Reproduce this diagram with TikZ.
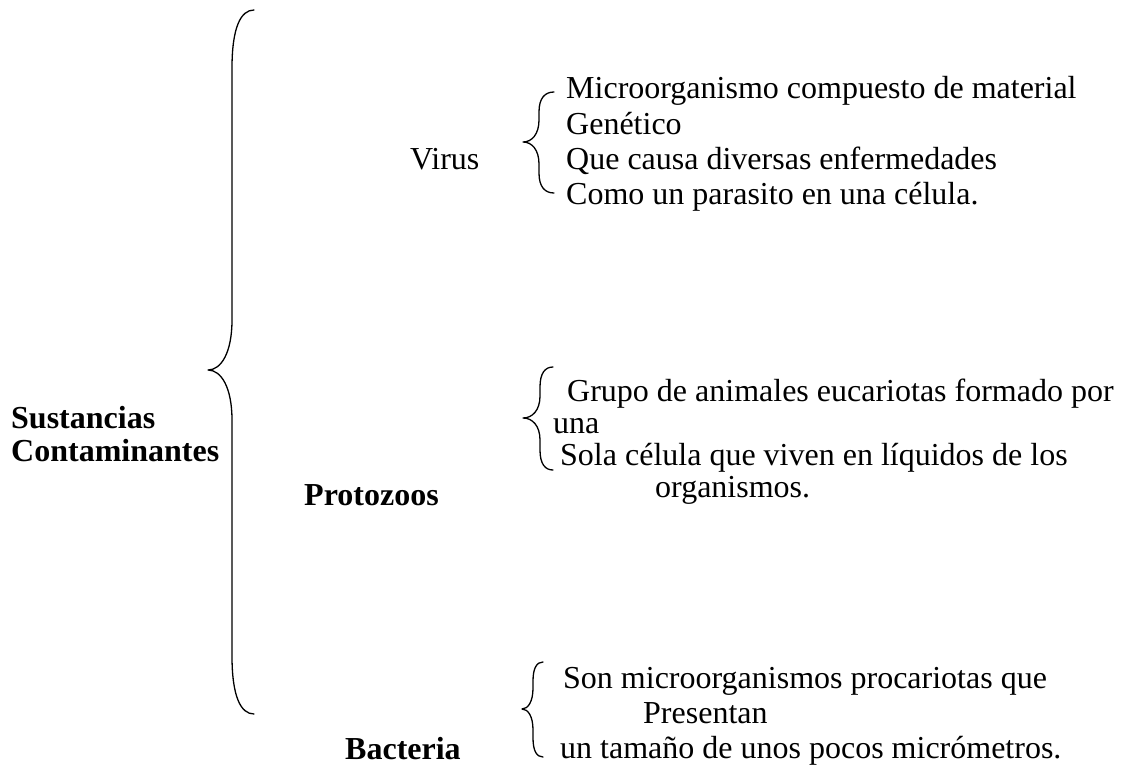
\documentclass[tikz,border=0pt]{standalone}
\usepackage{fontspec}
\setmainfont{Liberation Serif}
\tikzset{
  txt/.style={anchor=base west, inner sep=0pt, font=\fontsize{32}{35}\selectfont},
  btxt/.style={txt, font=\fontsize{32}{35}\selectfont\bfseries},
  bracestyle/.style={draw=black, line width=1.3pt, line cap=round, line join=round},
}
% #1 tip x, #2 stem x, #3 cusp x, #4 top y, #5 cusp y, #6 bottom y, #7 tip curve length, #8 cusp curve length
\newcommand\drawmybrace[8]{%
  \draw[bracestyle] (#1,#4) .. controls ({#1-0.6*(#1-#2)},#4) and (#2,{#4+0.3*#7}) .. (#2,{#4+#7})
    -- (#2,{#5-#8}) .. controls (#2,{#5-0.35*#8}) and ({#2-0.45*(#2-#3)},#5) .. (#3,#5)
    .. controls ({#2-0.45*(#2-#3)},#5) and (#2,{#5+0.35*#8}) .. (#2,{#5+#8})
    -- (#2,{#6-#7}) .. controls (#2,{#6-0.3*#7}) and ({#1-0.6*(#1-#2)},#6) .. (#1,#6);}
\begin{document}
\begin{tikzpicture}[x=1pt,y=-1pt]
\useasboundingbox (0,0) rectangle (1122,768);
% main brace
\drawmybrace{254}{232}{208}{10}{370}{714}{58}{50}
\node[btxt] (s1) at (11,428) {Sustancias};
\node[btxt] (s2) at (11,461) {Contaminantes};
% Virus
\node[txt] (virus) at (410,169) {Virus};
\drawmybrace{554}{539}{523}{92}{142}{193}{20}{22}
\node[txt] (v1) at (566,99) {Microorganismo compuesto de material};
\node[txt] (v2) at (566,134) {Genético};
\node[txt] (v3) at (566,169) {Que causa diversas enfermedades};
\node[txt] (v4) at (566,204) {Como un parasito en una célula.};
% Protozoos
\node[btxt] (proto) at (304,505) {Protozoos};
\drawmybrace{553}{540}{523}{367}{418}{470}{20}{22}
\node[txt] (p1) at (567,401) {Grupo de animales eucariotas formado por};
\node[txt] (p2) at (553,433) {una};
\node[txt] (p3) at (560,465) {Sola célula que viven en líquidos de los};
\node[txt] (p4) at (655,497) {organismos.};
% Bacteria
\node[btxt] (bact) at (345,759) {Bacteria};
\drawmybrace{543}{533}{522}{662}{709}{757}{19}{21}
\node[txt] (b1) at (563,688) {Son microorganismos procariotas que};
\node[txt] (b2) at (643,723) {Presentan};
\node[txt] (b3) at (560,758) {un tamaño de unos pocos micrómetros.};
\end{tikzpicture}
\end{document}
